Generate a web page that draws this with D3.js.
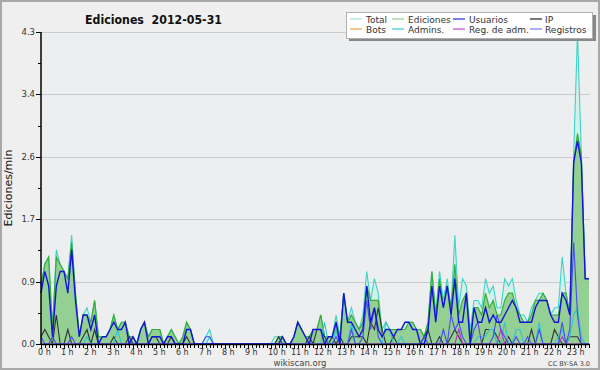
<!DOCTYPE html>
<html>
<head>
<meta charset="utf-8">
<script src="https://cdn.jsdelivr.net/npm/d3@7"></script>
<style>
  body { margin: 0; background: #efefef; }
  svg { display: block; font-family: "DejaVu Sans", sans-serif; }
</style>
</head>
<body>
<div id="chart"></div>
<script>
// edits per minute, one value per 10-minute slot (144 slots, 0 h .. 23:50)
var hours = d3.range(24).map(function (h) { return h + " h"; });
var yMax = 4.3;

var total = [
  0.8,1.1,1.2,0.2,1.3,1.1,1.0,0.9,1.5,0.7,0.1,0.4,0.5,0.3,0.6,0.1,
  0.1,0.1,0.2,0.4,0.2,0.3,0.3,0.1,0.1,0,0.2,0.3,0.1,0.2,0.2,0.2,0,0.1,0.2,0.1,0,0.1,0.3,0.2,0,0,0,0.1,0.2,0,
  0,0,0,0,0,0,0,0,0,0,0,0,0,0,0,
  0.1,0.1,0.1,0,0,0.1,0.3,0.2,0.1,0.1,0.2,0.2,0.4,0.1,0.1,0.1,0.4,0.1,0.7,0.3,0.5,0.3,0.2,0.4,1.0,0.6,0.9,0.7,
  0.2,0.3,0.2,0.2,0.2,0.2,0.3,0.3,0.3,0.2,0.2,0.1,0.3,1.0,0.4,1.0,0.6,0.9,0.5,1.5,0.5,0.9,0.8,0.2,0.6,0.6,0.5,0.9,0.7,0.8,
  0.5,0.5,0.9,0.8,0.9,0.6,0.4,0.4,0.3,0.5,0.6,0.7,0.7,0.6,0.4,0.5,0.5,1.2,0.7,0.4,2.6,4.3,2.6,0.9,0.9
];
var ediciones = [
  0.8,1.1,1.2,0.2,1.2,1.1,1.0,0.9,1.4,0.7,0.1,0.4,0.4,0.3,0.6,0.1,
  0.1,0.1,0.2,0.4,0.2,0.3,0.3,0.1,0.1,0,0.2,0.3,0.1,0.2,0.2,0.2,0,0.1,0.2,0.1,0,0.1,0.3,0.2,0,0,0,0,0,0,
  0,0,0,0,0,0,0,0,0,0,0,0,0,0,0,
  0,0.1,0.1,0,0,0.1,0.3,0.2,0.1,0.1,0.2,0.2,0.4,0.1,0.1,0.1,0.3,0.1,0.7,0.3,0.4,0.3,0.2,0.3,0.8,0.6,0.6,0.6,
  0.1,0.2,0.2,0.2,0.2,0.2,0.2,0.3,0.3,0.2,0.2,0.1,0.3,1.0,0.4,0.9,0.5,0.8,0.5,1.1,0.4,0.6,0.7,0.1,0.5,0.5,0.4,0.7,0.5,0.6,
  0.4,0.4,0.6,0.7,0.7,0.5,0.4,0.3,0.3,0.4,0.6,0.6,0.7,0.6,0.4,0.4,0.4,0.7,0.7,0.4,2.5,2.9,2.6,0.9,0.9
];
var usuarios = [
  0.7,1.0,0.8,0.1,0.8,1.0,1.0,0.7,1.3,0.6,0.1,0.4,0.4,0.2,0.4,0,
  0.1,0.1,0.2,0.3,0.2,0.2,0.3,0,0.1,0,0.2,0.3,0,0.1,0.1,0.1,0,0.1,0.1,0,0,0,0.2,0.2,0,0,0,0,0,0,
  0,0,0,0,0,0,0,0,0,0,0,0,0,0,0,
  0,0,0.1,0,0,0.1,0.3,0.2,0.1,0,0.2,0.2,0.2,0,0.1,0.1,0.3,0,0.7,0.3,0.3,0.2,0.1,0.2,0.8,0.3,0.5,0.2,
  0.1,0.2,0.2,0.1,0.2,0.2,0.3,0.3,0.2,0.2,0,0,0.2,0.8,0.3,0.8,0.5,0.8,0.4,0.9,0.3,0.3,0.7,0,0.5,0.3,0.3,0.5,0.3,0.4,
  0.3,0.3,0.4,0.5,0.6,0.5,0.3,0.3,0.3,0.3,0.5,0.6,0.6,0.6,0.4,0.3,0.3,0.7,0.6,0.4,2.5,2.8,2.5,0.9,0.9
];
var ip = [
  0.1,0.2,0.1,0,0.4,0,0,0.2,0,0,0,0.1,0.2,0,0.2,0,
  0,0,0,0.1,0,0,0,0.1,0,0,0,0,0,0.1,0.1,0,0,0,0.1,0,0,0,0.1,0,0,0,0,0,0,0,
  0,0,0,0,0,0,0,0,0,0,0,0,0,0,0,
  0,0.1,0,0,0,0,0,0,0,0.1,0,0.2,0.2,0.1,0,0.1,0,0.1,0,0,0.1,0.1,0.1,0.1,0,0.3,0.2,0.5,
  0.2,0,0,0.1,0,0,0,0,0,0,0,0.1,0.2,0,0,0.1,0,0,0.1,0.2,0.1,0,0,0,0,0,0,0.2,0.2,0.2,
  0.1,0,0,0.1,0,0,0,0,0,0.2,0,0,0,0,0,0.2,0.1,0,0,0.1,0.1,0.1,0,0,0
];
var admins = [
  0,0,0,0,0,0,0,0,0,0,0,0,0.1,0,0,0,
  0,0,0,0,0.2,0,0,0,0,0,0,0,0,0,0,0,0,0,0,0,0,0,0,0,0,0,0,0,0.1,0,
  0,0,0,0,0,0,0,0,0,0,0,0,0,0,0,
  0,0,0,0,0,0,0,0,0,0,0,0,0,0.3,0,0,0.2,0,0,0,0.3,0,0,0,0,0,0,0,
  0,0.3,0.2,0,0,0.1,0,0,0,0,0,0,0,0,0,0,0,0,0,0,0,0,0,0,0,0.1,0.1,0.1,0.2,0.2,
  0,0,0.3,0,0,0.2,0.2,0,0,0,0,0.3,0,0,0,0,0.1,0.2,0,0.1,0.4,0.5,0.1,0,0
];
var regAdm = [
  0,0,0,0,0,0,0,0,0,0,0,0,0,0,0,0,
  0,0,0,0,0,0,0,0,0,0,0,0,0,0,0,0,0,0,0,0,0,0,0,0,0,0,0,0,0,0,
  0,0,0,0,0,0,0,0,0,0,0,0,0,0,0,
  0,0,0,0,0,0,0,0,0,0,0,0,0,0,0,0,0,0,0,0,0,0,0,0,0,0,0,0,
  0,0,0,0,0,0,0,0,0,0,0,0,0,0,0,0,0,0,0,0,0.2,0,0,0,0,0,0,0,0,0,
  0,0.2,0,0,0,0,0,0,0,0,0,0,0,0,0,0,0,0.1,0,0,0,0,0,0,0
];
var registros = [
  0.1,0,0,0.1,0,0,0,0,0.1,0,0,0,0,0,0,0,
  0,0,0,0,0,0,0,0,0,0,0,0,0,0,0,0,0,0,0,0,0,0,0,0,0,0,0,0.1,0.1,0,
  0,0,0,0,0,0,0,0,0,0,0,0,0,0,0,
  0,0,0,0,0,0,0,0,0,0,0,0,0,0,0,0,0.1,0,0,0,0.2,0,0,0.1,0.6,0.2,0.5,0.1,
  0,0,0,0,0,0,0,0,0,0,0,0.1,0,0,0,0,0.2,0,0.4,0.2,0.3,0.1,0,0,0.2,0.3,0,0,0,0.1,
  0.4,0.2,0.1,0,0,0.1,0,0,0.1,0,0,0.2,0,0,0,0,0,0.3,0,0.2,1.4,0.4,0,0,0
];
var legendItems = [
  { name: "Total", color: "#a6e3e0" },
  { name: "Ediciones", color: "#90d290" },
  { name: "Usuarios", color: "#2828d8" },
  { name: "IP", color: "#222" },
  { name: "Bots", color: "#f0a040" },
  { name: "Admins.", color: "#38c8d8" },
  { name: "Reg. de adm.", color: "#d040d0" },
  { name: "Registros", color: "#7878f0" }
];

var W = 600, H = 370;
var pLeft = 41, pRight = 589, pTop = 32, pBottom = 344;

var svg = d3.select("#chart").append("svg")
  .attr("width", W).attr("height", H);

svg.append("rect").attr("x", 1).attr("y", 1).attr("width", W - 2).attr("height", H - 2)
  .attr("fill", "#efefef").attr("stroke", "#a8a8a8").attr("stroke-width", 2);
svg.append("rect").attr("x", pLeft).attr("y", pTop).attr("width", pRight - pLeft + 1).attr("height", pBottom - pTop)
  .attr("fill", "#edeef0");

var x = d3.scaleLinear().domain([0, total.length - 1]).range([pLeft, pRight]);
var y = d3.scaleLinear().domain([0, yMax]).range([pBottom, pTop]);

var majorTicks = d3.range(6).map(function (k) { return yMax * k / 5; });
var minorTicks = d3.range(5).map(function (k) { return yMax * (k + 0.5) / 5; });

// grid
svg.append("g").selectAll("line").data(majorTicks.slice(1)).join("line")
  .attr("x1", pLeft).attr("x2", pRight + 1)
  .attr("y1", function (d) { return Math.round(y(d)) + 0.5; })
  .attr("y2", function (d) { return Math.round(y(d)) + 0.5; })
  .attr("stroke", "#cbcbcb");

// areas
var area = function (arr) {
  return d3.area().x(function (d, i) { return x(i); }).y0(pBottom).y1(function (d) { return y(d); })(arr);
};
var line = function (arr) {
  return d3.line().x(function (d, i) { return x(i); }).y(function (d) { return y(d); })(arr);
};

svg.append("path").attr("d", area(total)).attr("fill", "#d3f0ea");
svg.append("path").attr("d", area(ediciones)).attr("fill", "#94cf94");
svg.append("path").attr("d", line(total)).attr("fill", "none").attr("stroke", "#3fd3c6").attr("stroke-width", 1.1);
svg.append("path").attr("d", line(ediciones)).attr("fill", "none").attr("stroke", "#36ad36").attr("stroke-width", 1.2);

var lineSeries = [
  { data: ip, color: "#333", w: 1.1 },
  { data: admins, color: "#30c4d4", w: 1.1 },
  { data: regAdm, color: "#c030d0", w: 1.1 },
  { data: registros, color: "#4a4af0", w: 1.1 },
  { data: usuarios, color: "#1414d8", w: 1.4 }
];
lineSeries.forEach(function (s) {
  svg.append("path").attr("d", line(s.data)).attr("fill", "none")
    .attr("stroke", s.color).attr("stroke-width", s.w);
});

// y axis
var ya = svg.append("g");
ya.append("line").attr("x1", pLeft).attr("x2", pLeft).attr("y1", pTop).attr("y2", pBottom + 1)
  .attr("stroke", "#000").attr("stroke-width", 1.5);
ya.selectAll(".maj").data(majorTicks).join("line")
  .attr("x1", pLeft - 5).attr("x2", pLeft)
  .attr("y1", function (d) { return Math.round(y(d)) + 0.5; })
  .attr("y2", function (d) { return Math.round(y(d)) + 0.5; })
  .attr("stroke", "#000");
ya.selectAll(".min").data(minorTicks).join("line")
  .attr("x1", pLeft - 3).attr("x2", pLeft)
  .attr("y1", function (d) { return Math.round(y(d)) + 0.5; })
  .attr("y2", function (d) { return Math.round(y(d)) + 0.5; })
  .attr("stroke", "#000");
ya.selectAll("text").data(majorTicks).join("text")
  .attr("x", pLeft - 6).attr("y", function (d) { return y(d) + 3; })
  .attr("text-anchor", "end").attr("font-size", 8.5).attr("fill", "#333")
  .text(function (d) { return d3.format(".1f")(d); });

svg.append("text")
  .attr("transform", "translate(12," + ((pTop + pBottom) / 2) + ") rotate(-90)")
  .attr("text-anchor", "middle").attr("font-size", 11).attr("fill", "#111")
  .text("Ediciones/min");

// x axis
var xa = svg.append("g");
xa.append("line").attr("x1", pLeft).attr("x2", pRight + 1).attr("y1", pBottom + 0.5).attr("y2", pBottom + 0.5)
  .attr("stroke", "#000").attr("stroke-width", 1.5);
xa.selectAll(".t").data(d3.range(total.length)).join("line")
  .attr("x1", function (i) { return Math.round(x(i)) + 0.5; })
  .attr("x2", function (i) { return Math.round(x(i)) + 0.5; })
  .attr("y1", pBottom).attr("y2", function (i) { return i % 6 === 0 ? pBottom + 5 : pBottom + 4; })
  .attr("stroke", "#000");
xa.selectAll("text").data(hours).join("text")
  .attr("x", function (d, h) { return x(h * 6) - 3; })
  .attr("y", pBottom + 11)
  .attr("font-size", 8).attr("fill", "#333")
  .text(function (d) { return d; });

// title
svg.append("text").attr("x", 85).attr("y", 24)
  .attr("font-size", 13).attr("font-weight", "bold").attr("fill", "#111")
  .attr("textLength", 137).attr("lengthAdjust", "spacingAndGlyphs")
  .attr("xml:space", "preserve")
  .text("Ediciones  2012-05-31");

// legend
var lg = svg.append("g");
lg.append("rect").attr("x", 349).attr("y", 15).attr("width", 247).attr("height", 26).attr("fill", "#888");
lg.append("rect").attr("x", 346.5).attr("y", 12.5).attr("width", 246).attr("height", 26)
  .attr("fill", "#fff").attr("stroke", "#b0b0b0");
var colX = [350, 392, 453, 530];
var textX = [366, 408, 469, 545];
legendItems.forEach(function (d, k) {
  var c = k % 4, r = Math.floor(k / 4);
  var yy = 19 + r * 10;
  lg.append("line").attr("x1", colX[c]).attr("x2", colX[c] + 12).attr("y1", yy).attr("y2", yy)
    .attr("stroke", d.color).attr("stroke-width", 1.2);
  lg.append("text").attr("x", textX[c]).attr("y", yy + 3.5)
    .attr("font-size", 9).attr("fill", "#333").text(d.name);
});

// footer
svg.append("text").attr("x", 300).attr("y", 366).attr("text-anchor", "middle")
  .attr("font-size", 8.5).attr("fill", "#444").text("wikiscan.org");
svg.append("text").attr("x", 590).attr("y", 366).attr("text-anchor", "end")
  .attr("font-size", 6.5).attr("fill", "#444").text("CC BY-SA 3.0");
</script>
</body>
</html>
